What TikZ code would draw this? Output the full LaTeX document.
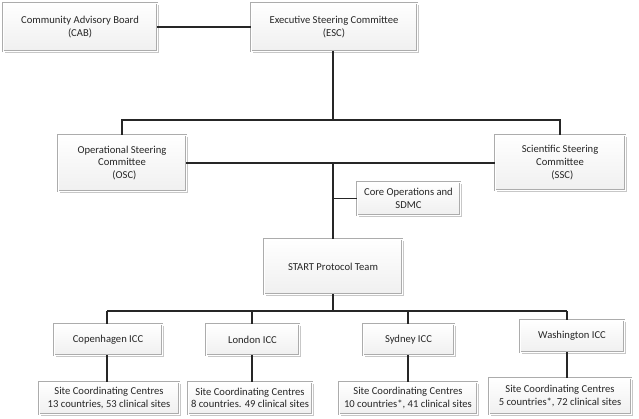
\documentclass[tikz,border=0pt]{standalone}
\usepackage{fontspec}
\setmainfont{Carlito}
\usetikzlibrary{shadows}
\begin{document}
\begin{tikzpicture}[x=1pt,y=-1pt,
  box/.style={draw=gray!65, double=white, double distance=0.9pt, line width=0.7pt,
    top color=white, bottom color=gray!12, align=center, inner sep=2pt,
    font=\fontsize{10.6}{12.6}\selectfont, text=black!85,
    drop shadow={shadow xshift=1.6pt, shadow yshift=-1.6pt, fill=gray!55, opacity=0.8}},
  conn/.style={line width=1.1pt, draw=black!85}]
\useasboundingbox (0,0) rectangle (639,419);
\node[box, minimum width=154pt, minimum height=48pt] (cab) at (80,27) {Community Advisory Board\\(CAB)};
\node[box, minimum width=166pt, minimum height=48pt] (esc) at (334,27) {Executive Steering Committee\\(ESC)};
\node[box, minimum width=128pt, minimum height=56pt] (osc) at (122,163) {Operational Steering\\Committee\\\ \ (OSC)};
\node[box, minimum width=130pt, minimum height=55pt] (ssc) at (560,162.5) {Scientific Steering\\Committee\\\ \ (SSC)};
\node[box, minimum width=103pt, minimum height=33pt] (core) at (408.5,198.5) {Core Operations and\\SDMC};
\node[box, minimum width=138pt, minimum height=55pt] (start) at (333,266.5) {START Protocol Team};
\node[box, minimum width=108pt, minimum height=31pt] (cph) at (108,339.5) {Copenhagen ICC};
\node[box, minimum width=93pt, minimum height=31pt] (lon) at (252.5,339.5) {London ICC};
\node[box, minimum width=91pt, minimum height=31pt] (syd) at (408.5,339.5) {Sydney ICC};
\node[box, minimum width=104pt, minimum height=32pt] (was) at (572,336) {Washington ICC};
\node[box, minimum width=140pt, minimum height=32pt] (scph) at (109,398) {Site Coordinating Centres\\13 countries, 53 clinical sites};
\node[box, minimum width=124pt, minimum height=32pt] (slon) at (250,398) {Site Coordinating Centres\\8 countries. 49 clinical sites};
\node[box, minimum width=138pt, minimum height=32pt] (ssyd) at (408,398) {Site Coordinating Centres\\10 countries*, 41 clinical sites};
\node[box, minimum width=142pt, minimum height=36pt] (swas) at (560,396) {Site Coordinating Centres\\5 countries*, 72 clinical sites};
\coordinate (j1) at (333,120);
\coordinate (j2) at (333,163);
\coordinate (j3) at (333,198.5);
\coordinate (j4) at (333,311);
\coordinate (bc) at (107,311);
\coordinate (bl) at (252,311);
\coordinate (bs) at (408,311);
\coordinate (bw) at (567,311);
\draw[conn] (cab.east) -- (esc.west);
\draw[conn] (esc.south -| j1) -- (j1);
\draw[conn] (osc.north) |- (j1) -| (ssc.north);
\draw[conn] (osc.east) -- (ssc.west |- osc.east);
\draw[conn] (j2) -- (start.north -| j2);
\draw[conn] (j3) -- (core.west);
\draw[conn] (start.south -| j4) -- (j4);
\draw[conn] (bc) -- (bw);
\draw[conn] (bc) -- (bc |- cph.north);
\draw[conn] (bl) -- (bl |- lon.north);
\draw[conn] (bs) -- (bs |- syd.north);
\draw[conn] (bw) -- (bw |- was.north);
\draw[conn] (bc |- cph.south) -- (bc |- scph.north);
\draw[conn] (bl |- lon.south) -- (bl |- slon.north);
\draw[conn] (bs |- syd.south) -- (bs |- ssyd.north);
\draw[conn] (bw |- was.south) -- (bw |- swas.north);
\end{tikzpicture}
\end{document}
